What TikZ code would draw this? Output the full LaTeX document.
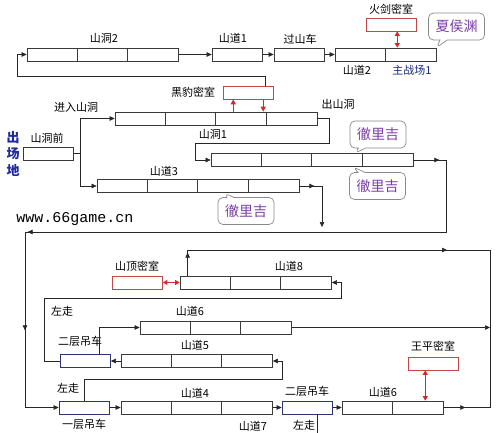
\documentclass[tikz,border=0pt]{standalone}
\usepackage{fontspec}
\setmainfont{Noto Sans CJK SC}
\newfontfamily\webfont{Liberation Mono}
\usetikzlibrary{arrows.meta,shapes.callouts,decorations.markings}

\definecolor{Cboxgray}{HTML}{3A3A3A}
\definecolor{Cliftnavy}{HTML}{2E3470}
\definecolor{Croomred}{HTML}{C04848}
\definecolor{Carrowred}{HTML}{D22A2A}
\definecolor{Cnotepurple}{HTML}{7A3FA8}
\definecolor{Cnotegray}{HTML}{8A8A8A}
\definecolor{Cfieldblue}{HTML}{1E2AA0}
\definecolor{Cbattlenavy}{HTML}{1A2A80}

\tikzset{
  cellbox/.style={draw=Cboxgray,line width=0.7pt,minimum height=13pt,inner sep=0pt,fill=white},
  liftbox/.style={cellbox,draw=Cliftnavy},
  roombox/.style={cellbox,draw=Croomred},
  flow/.style={draw=black!85,line width=0.6pt},
  tip/.style={-{Triangle[length=5pt,width=4.5pt]}},
  midtip/.style={postaction={decorate,decoration={markings,
      mark=at position #1 with {\arrow{Triangle[length=5pt,width=4.5pt]}}}}},
  secret/.style={draw=Carrowred,line width=0.9pt,
      {Triangle[length=4.5pt,width=5pt]}-{Triangle[length=4.5pt,width=5pt]}},
  redtip/.style={draw=Carrowred,line width=0.9pt,-{Triangle[length=5pt,width=5pt]}},
  lbl/.style={font=\fontsize{11}{13}\selectfont,inner sep=0pt},
  note/.style={rectangle callout,rounded corners=5pt,draw=Cnotegray,line width=0.7pt,
      fill=white,text=Cnotepurple,font=\fontsize{14}{16}\selectfont,
      minimum width=56pt,minimum height=27pt,inner sep=0pt},
}

% box of #5 cells, left edge at #3, centre height #4
\newcommand\segbox[5][cellbox]{%
  \node[#1,minimum width=#5*50.5pt] (#2) at (#3+#5*25.25,#4) {};
  \ifnum#5>1
    \foreach \k in {2,...,#5}
      \draw[draw=Cboxgray,line width=0.7pt]
        ([xshift=\k*50.5pt-50.5pt]#2.north west) -- ([xshift=\k*50.5pt-50.5pt]#2.south west);
  \fi}

\begin{document}
\begin{tikzpicture}[x=1pt,y=-1pt]
  \fill[white] (0,0) rectangle (500,433);
  \useasboundingbox (0,0) rectangle (500,433);

  % upper part
  \segbox{sdtwo}{27}{54.5}{3}
  \segbox{sdone}{212}{54.5}{1}
  \segbox{coaster}{274}{54.5}{1}
  \segbox{battle}{335}{54.5}{2}
  \segbox[roombox]{huojian}{366}{24.5}{1}
  \segbox[roombox]{heibao}{223}{92.5}{1}
  \segbox{cavein}{115}{118.5}{4}
  \segbox{qian}{23}{153.5}{1}
  \segbox{caveone}{211}{160}{4}
  \segbox{sdthree}{97}{186}{4}

  % lower part
  \segbox[roombox]{shanding}{112}{282.5}{1}
  \segbox{sdeight}{180}{282.5}{3}
  \segbox{sdsixa}{140}{327.5}{3}
  \segbox[liftbox]{liftA}{60}{361}{1}
  \segbox{sdfive}{121}{361}{3}
  \segbox[liftbox]{liftB}{59}{407.5}{1}
  \segbox{sdfour}{121}{407.5}{3}
  \segbox[liftbox]{liftC}{282}{407.5}{1}
  \segbox{sdsixb}{342}{407.5}{2}
  \segbox[roombox]{wangping}{408}{363.5}{1}

  % labels
  \node[lbl] (tsdtwo) at (104,38) {山洞2};
  \node[lbl] (tsdone) at (233,38) {山道1};
  \node[lbl] (tcoaster) at (300,39) {过山车};
  \node[lbl] (thuojian) at (391,9) {火剑密室};
  \node[lbl] (tsdtwob) at (357,70) {山道2};
  \node[lbl,text=Cbattlenavy] (tbattle) at (412,70) {主战场1};
  \node[lbl] (theibao) at (193,92) {黑豹密室};
  \node[lbl] (tenter) at (76,107) {进入山洞};
  \node[lbl] (texit) at (338,104) {出山洞};
  \node[lbl] (tqian) at (47,138) {山洞前};
  \node[lbl] (tcaveone) at (213,134) {山洞1};
  \node[lbl] (tsdthree) at (164,171) {山道3};
  \node[align=center,inner sep=0pt,text=Cfieldblue,
        font=\fontsize{13}{16.5}\selectfont\bfseries] (tfield) at (13,153.5) {出\\场\\地};
  \node[inner sep=0pt,font=\webfont\fontsize{15}{17}\selectfont] (tweb) at (75,219) {www.66game.cn};
  \node[lbl] (tshanding) at (137,266) {山顶密室};
  \node[lbl] (tsdeight) at (289,266) {山道8};
  \node[lbl] (tleftA) at (62,311) {左走};
  \node[lbl] (tsdsixa) at (190,311) {山道6};
  \node[lbl] (tliftA) at (80,341) {二层吊车};
  \node[lbl] (tsdfive) at (195,345) {山道5};
  \node[lbl] (tleftB) at (68,388) {左走};
  \node[lbl] (tsdfour) at (195,393) {山道4};
  \node[lbl] (tliftB) at (84,424) {一层吊车};
  \node[lbl] (tsdseven) at (253,426) {山道7};
  \node[lbl] (tliftC) at (307,391) {二层吊车};
  \node[lbl] (tleftC) at (304,425) {左走};
  \node[lbl] (tsdsixb) at (383,392) {山道6};
  \node[lbl] (twangping) at (433,346) {王平密室};

  % notes
  \node[note,callout absolute pointer={(battle.north east)}] (nxiahou) at (456.5,26.5) {夏侯渊};
  \node[note,callout absolute pointer={([xshift=43pt]caveone.north)}] (nche1) at (378,134.5) {徹里吉};
  \node[note,callout absolute pointer={([xshift=41pt]caveone.south)}] (nche2) at (377.5,186) {徹里吉};
  \node[note,callout absolute pointer={([xshift=27pt]sdthree.south)}] (nche3) at (246,211) {徹里吉};

  % connectors, upper part
  \coordinate (loopR) at (265,76);
  \coordinate (loopL) at (17,76);
  \draw[flow,tip] (heibao.north -| loopR) -- (loopR) -- (loopL) |- (sdtwo.west);
  \draw[flow,tip] (sdtwo.east) -- (sdone.west);
  \draw[flow,tip] (sdone.east) -- (coaster.west);
  \draw[flow,tip] (coaster.east) -- (battle.west);
  \coordinate (hjx) at ([xshift=6pt]huojian.south);
  \draw[secret] (hjx) -- (hjx |- battle.north);

  \coordinate (fork) at (80,153.5);
  \draw[flow] (qian.east) -- (fork);
  \draw[flow,tip] (fork) |- (cavein.west);
  \draw[flow,tip] (fork) |- (sdthree.west);

  \coordinate (hbL) at ([xshift=-15pt]heibao.south);
  \coordinate (hbR) at ([xshift=15pt]heibao.south);
  \draw[redtip] (hbL |- cavein.north) -- (hbL);
  \draw[redtip] (hbR) -- (hbR |- cavein.north);

  \coordinate (outA) at (329,143);
  \coordinate (outB) at (195,143);
  \draw[flow,tip] (cavein.east) -| (outA) -- (outB) |- (caveone.west);

  \coordinate (sdthreeturn) at (322,227);
  \draw[flow,tip,midtip=15pt] (sdthree.east) -| (sdthreeturn);

  \coordinate (eastA) at (446,232);
  \coordinate (westA) at (25,232);
  \draw[flow,tip,midtip=26pt,midtip=523pt,midtip=624pt]
    (caveone.east) -| (eastA) -- (westA) |- (liftB.west);

  % connectors, lower part
  \coordinate (sdeightup) at ([xshift=8pt]sdeight.north west);
  \coordinate (topR) at (490,250);
  \coordinate (botR) at (490,408);
  \draw[flow,midtip=23pt,midtip=285pt] (sdeightup) -- (sdeightup |- topR) -- (topR) -- (botR);
  \draw[flow,tip] (sdsixa.east) -- (sdsixa.east -| topR);
  \draw[flow,midtip=22pt] (sdsixb.east) -- (sdsixb.east -| topR);

  \draw[secret] (shanding.east) -- (sdeight.west);
  \coordinate (wpx) at ([xshift=-8pt]wangping.south);
  \draw[secret] (wpx) -- (wpx |- sdsixb.north);

  \coordinate (leightA) at (44,298);
  \coordinate (leightB) at (341,298);
  \draw[flow,tip] (liftA.west) -| (leightA) -- (leightB) |- (sdeight.east);
  \coordinate (lasix) at ([xshift=14pt]liftA.north);
  \draw[flow,tip] (lasix) |- (sdsixa.west);
  \draw[flow,tip] (sdfive.west) -- (liftA.east);
  \coordinate (lfive) at (282,379);
  \draw[flow,tip] (liftB.north) |- (lfive) |- (sdfive.east);
  \draw[flow,tip] (liftB.east) -- (sdfour.west);
  \draw[flow,tip] (sdfour.east) -- (liftC.west);
  \draw[flow,tip] (liftC.east) -- (sdsixb.west);
  \coordinate (lcx) at ([xshift=10pt]liftC.south);
  \coordinate (bottomedge) at (0,433);
  \draw[flow] (lcx) -- (lcx |- bottomedge);
\end{tikzpicture}
\end{document}
